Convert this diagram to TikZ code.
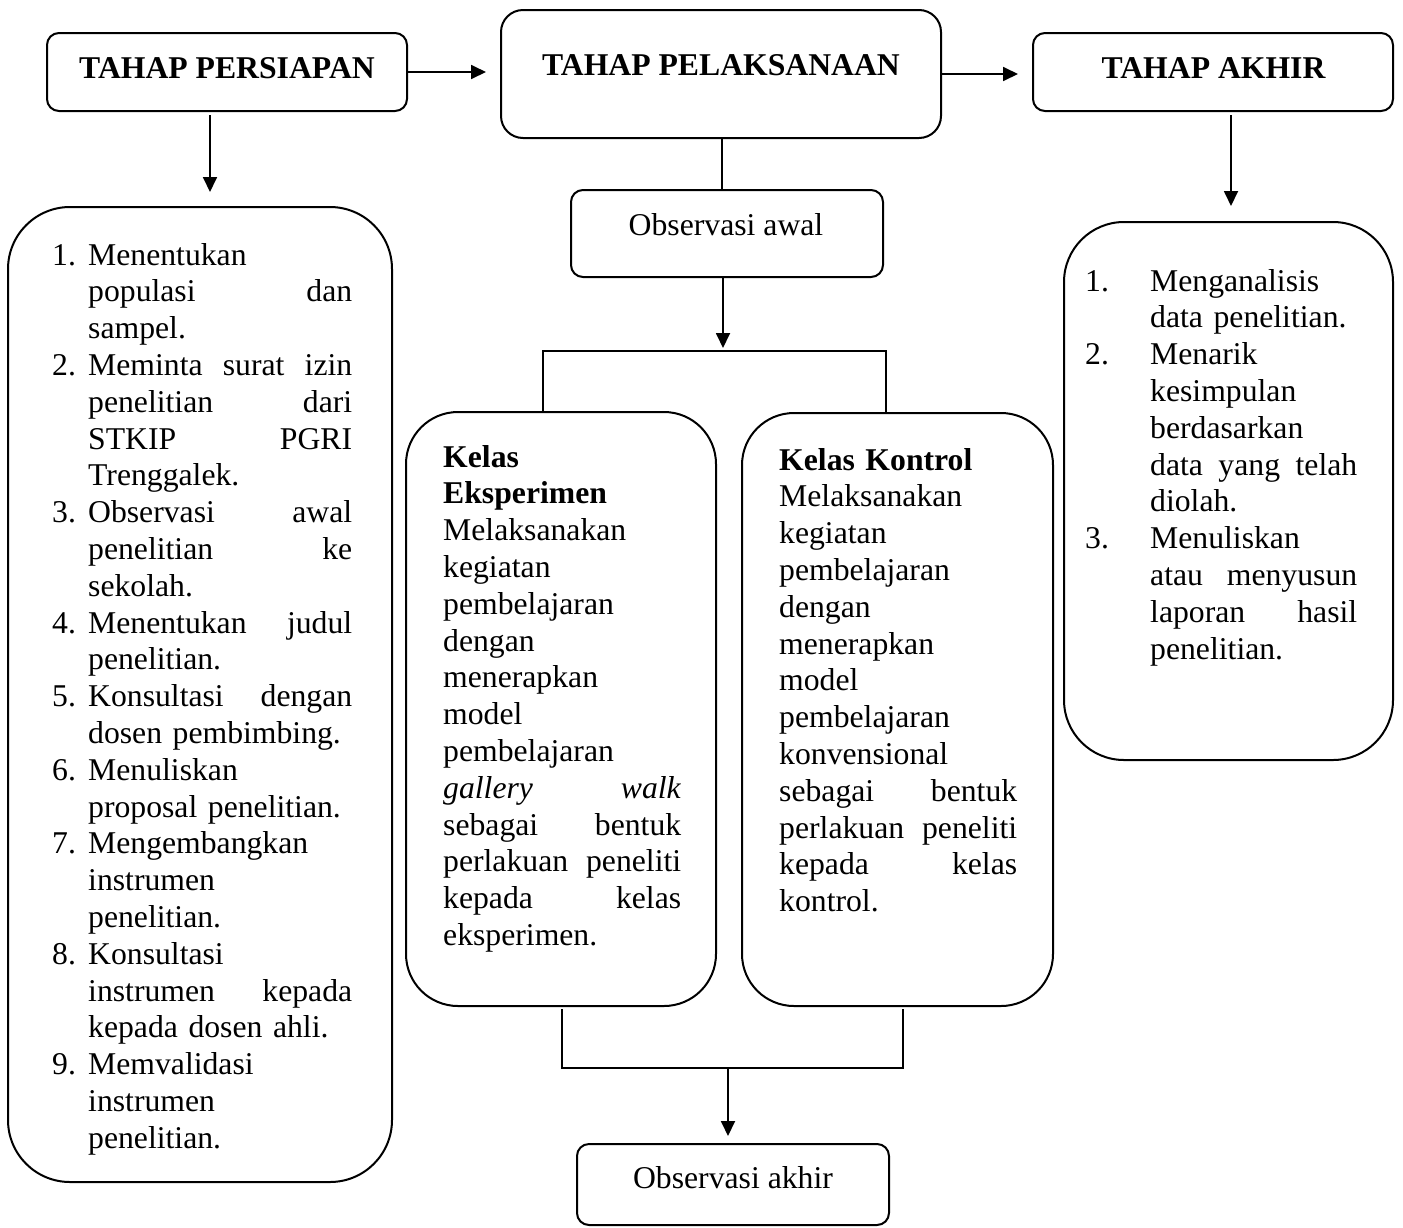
\documentclass[tikz,border=0pt]{standalone}
\usepackage{fontspec}
\setmainfont{Liberation Serif}
\usetikzlibrary{arrows.meta}
\newcommand\nL[1]{\leavevmode\llap{\makebox[36pt][l]{#1}}}
\newcommand\nR[1]{\leavevmode\llap{\makebox[65pt][l]{#1}}}
\newcommand\jw{238pt}
\newcommand\J[1]{\leavevmode\makebox[\jw][s]{\spaceskip=0pt\xspaceskip=0pt #1}}
\begin{document}
\begin{tikzpicture}[x=1pt,y=-1pt,
  rbox/.style={draw, line width=2pt, inner sep=0pt, rounded corners=#1},
  rbox/.default=12pt,
  arr/.style={line width=1.8pt, -{Triangle[length=15pt,width=14pt]}},
  brline/.style={line width=1.4pt},
  ttl/.style={anchor=base, inner sep=0pt, font=\fontsize{31.7pt}{36.8pt}\selectfont},
  lst/.style={anchor=base west, inner sep=0pt, align=left, font=\fontsize{31.7pt}{36.8pt}\selectfont}]
\useasboundingbox (0,0) rectangle (1403,1227);
\fill[white] (0,0) rectangle (1403,1227);

% boxes
\node[rbox, minimum width=360pt, minimum height=78pt] (persiapan) at (227,72) {};
\node[rbox=22pt, minimum width=440pt, minimum height=128pt] (pelaksanaan) at (721,74) {};
\node[rbox, minimum width=360pt, minimum height=78pt] (akhir) at (1213,72) {};
\node[rbox=62pt, minimum width=384pt, minimum height=975pt] (listL) at (200,694.5) {};
\node[rbox, minimum width=312pt, minimum height=87pt] (obsAwal) at (727,233.5) {};
\node[rbox=52pt, minimum width=310pt, minimum height=594pt] (eksp) at (561,709) {};
\node[rbox=52pt, minimum width=311pt, minimum height=593pt] (kontrol) at (897.5,709.5) {};
\node[rbox=60pt, minimum width=329pt, minimum height=538pt] (listR) at (1228.5,491) {};
\node[rbox, minimum width=312pt, minimum height=81pt] (obsAkhir) at (733,1184.5) {};

% titles
\node[ttl] (tPersiapan) at (227,78) {\bfseries TAHAP PERSIAPAN};
\node[ttl] (tPelaksanaan) at (721,75) {\bfseries TAHAP PELAKSANAAN};
\node[ttl] (tAkhir) at (1213.5,78) {\bfseries TAHAP AKHIR};
\node[ttl] (tObsAwal) at (726,235) {Observasi awal};
\node[ttl] (tObsAkhir) at (733,1188) {Observasi akhir};

% left list
\node[lst, text width=264pt] (txL) at (88,265) {%
\renewcommand\jw{264pt}%
\nL{1.}Menentukan\\
\J{populasi dan}\\
sampel.\\
\J{\nL{2.}Meminta surat izin}\\
\J{penelitian dari}\\
\J{STKIP PGRI}\\
Trenggalek.\\
\J{\nL{3.}Observasi awal}\\
\J{penelitian ke}\\
sekolah.\\
\J{\nL{4.}Menentukan judul}\\
penelitian.\\
\J{\nL{5.}Konsultasi dengan}\\
dosen pembimbing.\\
\nL{6.}Menuliskan\\
proposal penelitian.\\
\nL{7.}Mengembangkan\\
instrumen\\
penelitian.\\
\nL{8.}Konsultasi\\
\J{instrumen kepada}\\
kepada dosen ahli.\\
\nL{9.}Memvalidasi\\
instrumen\\
penelitian.};

% right list
\node[lst, text width=207pt] (txR) at (1150,291) {%
\renewcommand\jw{207pt}%
\nR{1.}Menganalisis\\
data penelitian.\\
\nR{2.}Menarik\\
kesimpulan\\
berdasarkan\\
\J{data yang telah}\\
diolah.\\
\nR{3.}Menuliskan\\
\J{atau menyusun}\\
\J{laporan hasil}\\
penelitian.};

% eksperimen
\node[lst, text width=238pt] (txE) at (443,467) {%
\textbf{Kelas}\\
\textbf{Eksperimen}\\
Melaksanakan\\
kegiatan\\
pembelajaran\\
dengan\\
menerapkan\\
model\\
pembelajaran\\
\J{\textit{gallery} \textit{walk}}\\
\J{sebagai bentuk}\\
\J{perlakuan peneliti}\\
\J{kepada kelas}\\
eksperimen.};

% kontrol
\node[lst, text width=238pt] (txK) at (779,470) {%
\textbf{Kelas Kontrol}\\
Melaksanakan\\
kegiatan\\
pembelajaran\\
dengan\\
menerapkan\\
model\\
pembelajaran\\
konvensional\\
\J{sebagai bentuk}\\
\J{perlakuan peneliti}\\
\J{kepada kelas}\\
kontrol.};

% connectors
\draw[arr] (persiapan.east) -- ([xshift=-14pt]pelaksanaan.west |- persiapan.east);
\draw[arr] (pelaksanaan.east) -- ([xshift=-14pt]akhir.west |- pelaksanaan.east);
\draw[arr] ([xshift=-17pt,yshift=-3pt]persiapan.south) -- ([xshift=-17pt,yshift=14pt]persiapan.south |- listL.north);
\draw[arr] ([xshift=18pt,yshift=-3pt]akhir.south) -- ([xshift=18pt,yshift=15pt]akhir.south |- listR.north);
\draw[line width=1.8pt] ([xshift=1pt]pelaksanaan.south) -- ([xshift=1pt]pelaksanaan.south |- obsAwal.north);

\coordinate (brT) at (723,351);
\coordinate (bl) at (543,351);
\coordinate (br) at (886,351);
\draw[arr] (obsAwal.south -| brT) -- ([yshift=3pt]brT);
\draw[brline] (bl |- eksp.north) -- (bl) -- (br) -- (br |- kontrol.north);

\coordinate (cl) at (562,1068);
\coordinate (cr) at (903,1068);
\coordinate (cm) at (728,1068);
\draw[brline] ([yshift=-2pt]eksp.south -| cl) -- (cl) -- (cr) -- ([yshift=-2pt]kontrol.south -| cr);
\draw[arr] (cm) -- ([yshift=7pt]obsAkhir.north -| cm);
\end{tikzpicture}
\end{document}
